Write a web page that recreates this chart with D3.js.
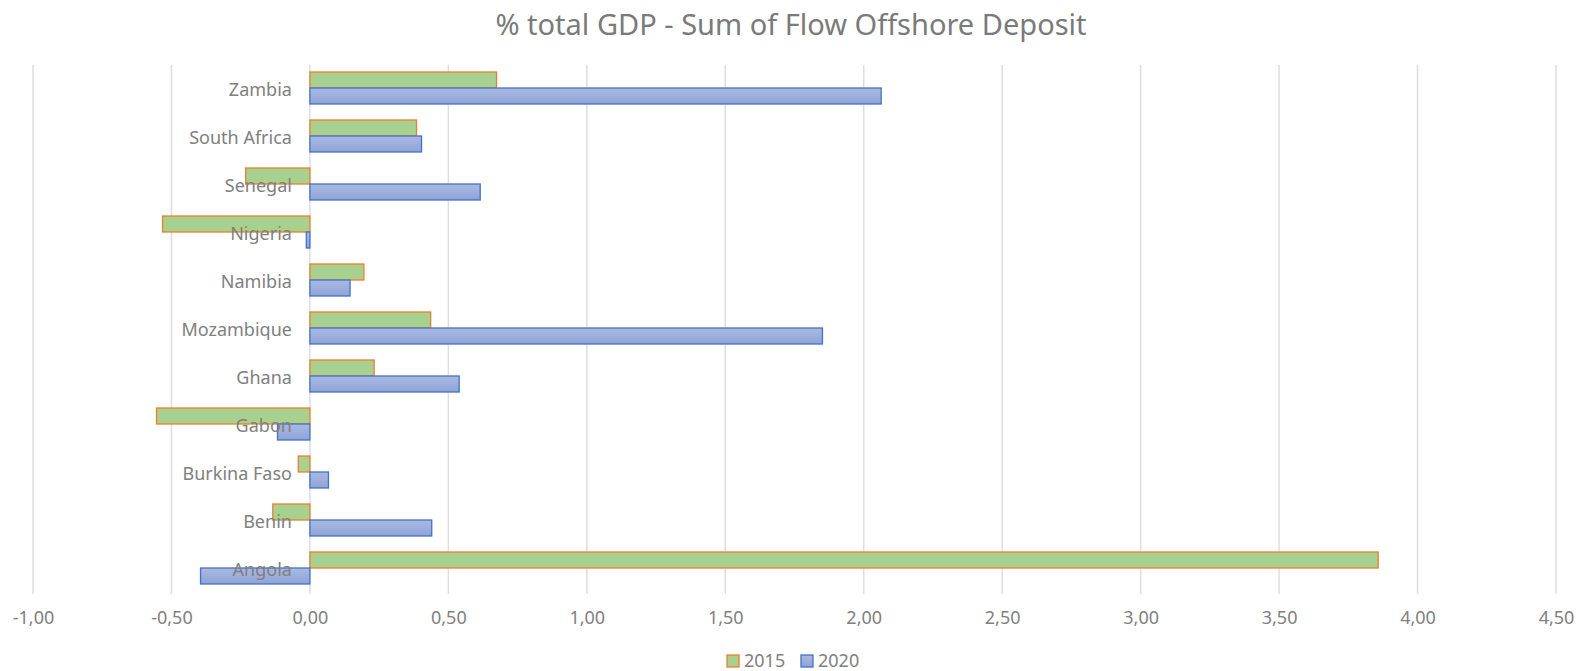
<!DOCTYPE html>
<html>
<head>
<meta charset="utf-8">
<script src="https://cdn.jsdelivr.net/npm/d3@7"></script>
<style>
  html, body { margin: 0; padding: 0; background: #fff; }
  svg { display: block; }
</style>
</head>
<body>
<div id="chart"></div>
<script>
// ---- data ----
const categories = ['Zambia', 'South Africa', 'Senegal', 'Nigeria', 'Namibia', 'Mozambique', 'Ghana', 'Gabon', 'Burkina Faso', 'Benin', 'Angola']
const seriesNames = ['2015', '2020']
const values2015 = [0.674, 0.385, -0.232, -0.532, 0.195, 0.436, 0.232, -0.554, -0.042, -0.134, 3.858]
const values2020 = [2.063, 0.403, 0.615, -0.013, 0.145, 1.851, 0.539, -0.117, 0.067, 0.440, -0.395]
const xTicks = [-1, -0.5, 0, 0.5, 1, 1.5, 2, 2.5, 3, 3.5, 4, 4.5]

const width = 1578
const height = 671
const margin = { top: 64, right: 22, bottom: 79, left: 33 }
const font = '"Noto Sans", "Open Sans", sans-serif'

const rows = []
categories.forEach((c, i) => {
  rows.push({ cat: c, series: '2015', value: values2015[i] })
  rows.push({ cat: c, series: '2020', value: values2020[i] })
})

const svg = d3.select('#chart').append('svg')
  .attr('width', width).attr('height', height)

// gradient for the 2020 bars
const defs = svg.append('defs')
const grad = defs.append('linearGradient').attr('id', 'blueGrad')
  .attr('x1', 0).attr('y1', 0).attr('x2', 0).attr('y2', 1)
grad.append('stop').attr('offset', '0%').attr('stop-color', '#aab9e2')
grad.append('stop').attr('offset', '100%').attr('stop-color', '#8ea3d8')

const styles = {
  '2015': { fill: '#a9d18e', stroke: '#ed7d31' },
  '2020': { fill: 'url(#blueGrad)', stroke: '#4472c4' },
}

// ---- scales ----
const x = d3.scaleLinear().domain([-1, 4.5]).range([margin.left, width - margin.right])
const y = d3.scaleBand().domain(categories).range([margin.top, height - margin.bottom]).padding(0)
const ySub = d3.scaleBand().domain(seriesNames)
  .range([y.bandwidth() / 6, y.bandwidth() * 5 / 6]).padding(0)

// ---- title ----
svg.append('text')
  .attr('x', width / 2 + 2).attr('y', 35)
  .attr('text-anchor', 'middle')
  .attr('fill', '#7a7a7a').attr('font-size', '29px')
  .attr('font-family', font)
  .text('% total GDP - Sum of Flow Offshore Deposit')

// ---- gridlines ----
svg.append('g').attr('class', 'gridlines')
  .selectAll('line').data(xTicks).enter().append('line')
  .attr('x1', d => x(d)).attr('x2', d => x(d))
  .attr('y1', margin.top + 1).attr('y2', height - margin.bottom + 2)
  .attr('stroke', '#dedede').attr('stroke-width', 1.5)

// ---- x axis ----
const fmt = d => d.toFixed(2).replace('.', ',')
svg.append('g')
  .attr('class', 'x-axis')
  .attr('transform', `translate(0,${height - margin.bottom})`)
  .call(d3.axisBottom(x).tickValues(xTicks).tickFormat(fmt).tickSize(0).tickPadding(19))
  .call(g => {
    g.select('.domain').remove()
    g.selectAll('.tick text')
      .attr('fill', '#808080').attr('font-size', '18px')
      .attr('font-family', font)
  })

// ---- bars ----
svg.append('g').attr('class', 'bars')
  .selectAll('rect').data(rows).enter().append('rect')
  .attr('x', d => x(Math.min(0, d.value)))
  .attr('y', d => y(d.cat) + ySub(d.series))
  .attr('width', d => Math.abs(x(d.value) - x(0)))
  .attr('height', ySub.bandwidth())
  .attr('fill', d => styles[d.series].fill)
  .attr('stroke', d => styles[d.series].stroke)
  .attr('stroke-width', 1.3)

// ---- category labels (drawn over bars) ----
svg.append('g')
  .attr('class', 'y-axis')
  .attr('transform', `translate(${x(0) - 18},2)`)
  .call(d3.axisLeft(y).tickSize(0).tickPadding(0))
  .call(g => {
    g.select('.domain').remove()
    g.selectAll('.tick text')
      .attr('fill', '#808080').attr('font-size', '18px')
      .attr('font-family', font)
  })

// ---- legend ----
const legend = svg.append('g').attr('class', 'legend')
  .attr('transform', `translate(727,${height - 10})`)
const legendX = d3.scaleBand().domain(seriesNames).range([0, 148]).padding(0)
const li = legend.selectAll('g').data(seriesNames).enter().append('g')
  .attr('transform', d => `translate(${legendX(d)},0)`)
li.append('rect')
  .attr('x', 0).attr('y', -6).attr('width', 12).attr('height', 12)
  .attr('fill', d => styles[d].fill).attr('stroke', d => styles[d].stroke).attr('stroke-width', 1.3)
li.append('text')
  .attr('x', 17).attr('y', 0).attr('dy', '0.35em')
  .attr('fill', '#808080').attr('font-size', '18px')
  .attr('font-family', font)
  .text(d => d)
</script>
</body>
</html>
